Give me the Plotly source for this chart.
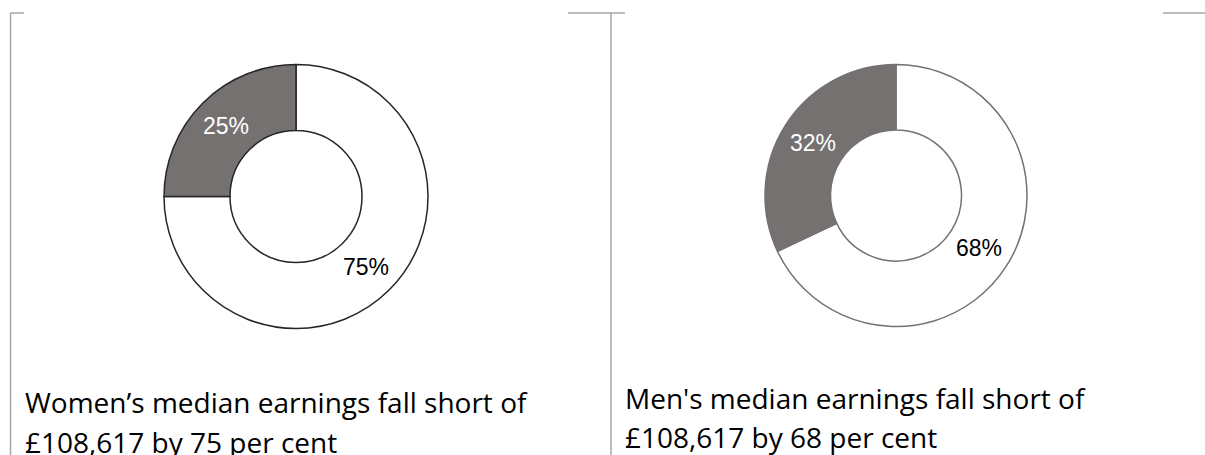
import plotly.graph_objects as go

W, H = 1205, 455

labels = ["Median earnings", "Short of £108,617"]
women_values = [75, 25]
men_values = [68, 32]
captions_women = ["Women’s median earnings fall short of", "£108,617 by 75 per cent"]
captions_men = ["Men's median earnings fall short of", "£108,617 by 68 per cent"]

fill_colors = ["#FFFFFF", "#767171"]
text_colors = ["#000000", "#FFFFFF"]


def dom(cx, cy, r):
    return dict(x=[(cx - r) / W, (cx + r) / W], y=[1 - (cy + r) / H, 1 - (cy - r) / H])


fig = go.Figure()
for vals, (cx, cy, r), lc in [
    (women_values, (296, 196.5, 132), "#262626"),
    (men_values, (896, 195.5, 131), "#767171"),
]:
    fig.add_trace(go.Pie(
        labels=labels, values=vals, hole=0.5, sort=False, direction="counterclockwise",
        rotation=0, domain=dom(cx, cy, r),
        marker=dict(colors=fill_colors, line=dict(color=lc, width=1.5)),
        texttemplate="%{value}%", textposition="inside", insidetextorientation="horizontal",
        textfont=dict(family="Liberation Sans, Arial", size=23, color=text_colors),
        showlegend=False, hoverinfo="label+value",
    ))

cap_font = dict(family="Open Sans", size=28, color="#000000")
for x0, ys, lines in [(23, [402, 442], captions_women), (623, [398, 437], captions_men)]:
    for y, t in zip(ys, lines):
        fig.add_annotation(x=x0 / W, y=1 - y / H, xref="paper", yref="paper", text=t,
                           showarrow=False, xanchor="left", yanchor="middle", font=cap_font)

line = dict(color="#A6A6A6", width=1.5)
shapes = [
    (10.5, 13, 10.5, 455), (10.5, 13, 24, 13),
    (568, 13, 625, 13), (611, 13, 611, 455),
    (1163, 13, 1205, 13),
]
for x0, y0, x1, y1 in shapes:
    fig.add_shape(type="line", xref="paper", yref="paper", x0=x0 / W, x1=x1 / W,
                  y0=1 - y0 / H, y1=1 - y1 / H, line=line)

fig.update_layout(width=W, height=H, margin=dict(l=0, r=0, t=0, b=0),
                  paper_bgcolor="white", plot_bgcolor="white")
fig.write_html("out.html", config={"displayModeBar": False},
               post_script="document.body.style.margin='0px';document.body.style.overflow='hidden';")
